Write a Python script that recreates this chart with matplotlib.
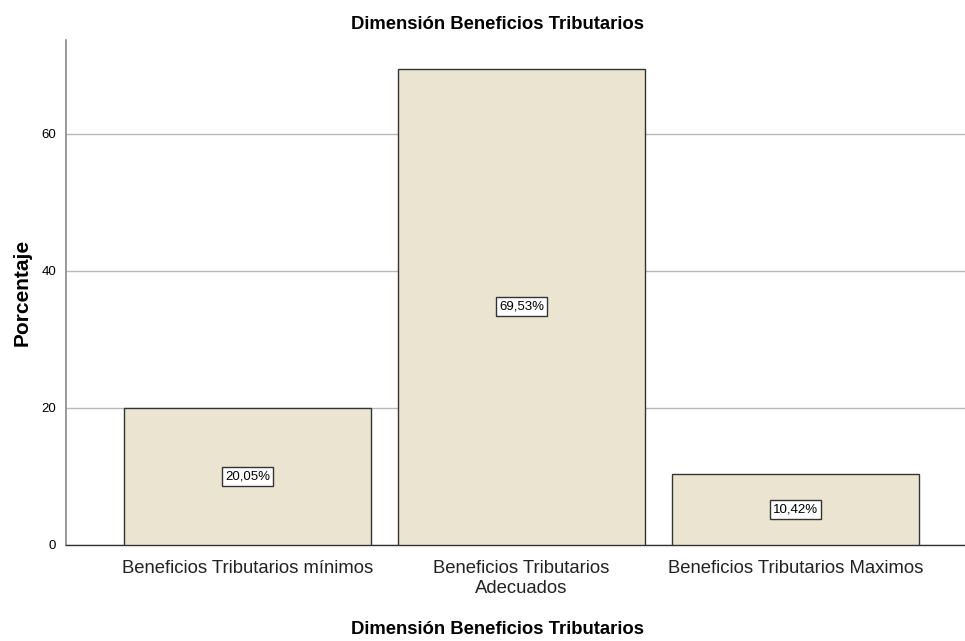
import matplotlib

matplotlib.use("Agg")
import matplotlib.pyplot as plt

categories = [
    "Beneficios Tributarios mínimos",
    "Beneficios Tributarios\nAdecuados",
    "Beneficios Tributarios Maximos",
]
percentages = [20.05, 69.53, 10.42]
value_labels = ["20,05%", "69,53%", "10,42%"]
y_ticks = [0, 20, 40, 60]

plt.rcParams["font.family"] = ["Liberation Sans", "DejaVu Sans"]

fig = plt.figure(figsize=(9.65, 6.41), dpi=100)
ax = fig.add_axes([0.0684, 0.1498, 0.9316, 0.7878])

x = list(range(len(categories)))
ax.bar(x, percentages, width=0.9, color="#EAE4D0", edgecolor="#333333",
       linewidth=1.0, zorder=3)
for xi, val, lab in zip(x, percentages, value_labels):
    ax.text(xi, val / 2, lab, ha="center", va="center", fontsize=9.5,
            zorder=4,
            bbox=dict(boxstyle="square,pad=0.25", facecolor="white",
                      edgecolor="#333333", linewidth=1.0))

ax.set_xlim(-0.662, 2.619)
ax.set_ylim(0, 73.7)
ax.set_yticks(y_ticks)
ax.set_xticks(x)
ax.set_xticklabels(categories, fontsize=13.3, color="#222222",
                   linespacing=1.2)
ax.tick_params(axis="y", labelsize=9.5, length=0, pad=7)
ax.tick_params(axis="x", length=0, pad=11)
ax.yaxis.grid(True, color="#B8B8B8", linewidth=1.0, zorder=0)
ax.set_axisbelow(True)

for side in ("top", "right"):
    ax.spines[side].set_visible(False)
ax.spines["left"].set_color("#888888")
ax.spines["left"].set_linewidth(1.2)
ax.spines["bottom"].set_color("#333333")
ax.spines["bottom"].set_linewidth(1.0)

ax.set_ylabel("Porcentaje", fontsize=15, fontweight="bold", labelpad=7)
fig.text(0.5156, 0.018, "Dimensión Beneficios Tributarios", ha="center",
         va="center", fontsize=13.3, fontweight="bold")
fig.text(0.5156, 0.962, "Dimensión Beneficios Tributarios", ha="center",
         va="center", fontsize=13.3, fontweight="bold")

fig.savefig("out.png", dpi=100)
plt.close(fig)
